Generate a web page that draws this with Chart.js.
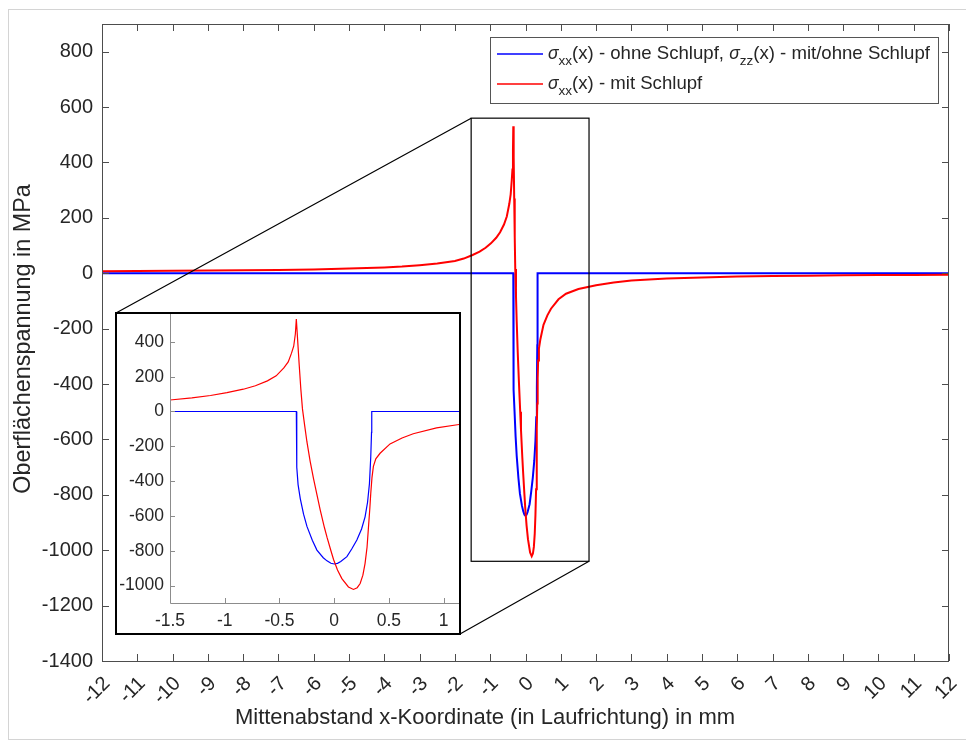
<!DOCTYPE html>
<html>
<head>
<meta charset="utf-8">
<script src="https://cdn.jsdelivr.net/npm/chart.js@4.4.1/dist/chart.umd.min.js"></script>
<style>
  body { margin: 0; background: #fff; }
  #wrap { position: relative; width: 966px; height: 742px; overflow: hidden; background: #fff; }
  #frame { position: absolute; left: 8px; top: 9px; width: 970px; height: 731px; border: 1px solid #d4d4d4; box-sizing: border-box; }
  #main { position: absolute; left: 0; top: 0; }
  #insetBox { position: absolute; left: 115px; top: 312px; width: 346px; height: 323px; border: 2px solid #000; box-sizing: border-box; background: #fff; }
  #inset { position: absolute; left: 0; top: 0; }
</style>
</head>
<body>
<div id="wrap">
  <div id="frame"></div>
  <canvas id="main" width="966" height="742"></canvas>
  <div id="insetBox"><canvas id="inset" width="342" height="319"></canvas></div>
</div>
<script>
// Oberflächenspannung entlang x, mit und ohne Schlupf

const xTicks = [-12, -11, -10, -9, -8, -7, -6, -5, -4, -3, -2, -1, 0, 1, 2, 3, 4, 5, 6, 7, 8, 9, 10, 11, 12];
const yTicks = [-1400, -1200, -1000, -800, -600, -400, -200, 0, 200, 400, 600, 800];
const insetXTicks = [-1.5, -1, -0.5, 0, 0.5, 1];
const insetYTicks = [-1000, -800, -600, -400, -200, 0, 200, 400];

const xLabel = 'Mittenabstand x-Koordinate (in Laufrichtung) in mm';
const yLabel = 'Oberflächenspannung in MPa';

// sigma_xx ohne Schlupf / sigma_zz (blau)
const xBlue = [-12, -0.346, -0.344, -0.34, -0.33, -0.31, -0.28, -0.249, -0.2, -0.158, -0.1, -0.066, -0.03, 0,
  0.03, 0.06, 0.116, 0.16, 0.207, 0.25, 0.282, 0.305, 0.322, 0.334, 0.341, 0.343, 12];
const yBlue = [0, 0, -200, -320, -420, -500, -590, -660, -740, -796, -840, -858, -872, -876,
  -872, -862, -834, -790, -738, -675, -605, -520, -414, -260, -120, 0, 0];

// sigma_xx mit Schlupf (rot)
const xRed = [-12, -11, -10, -9, -8, -7, -6, -5, -4, -3.5, -3, -2.5, -2, -1.75, -1.5, -1.3, -1.13, -0.98, -0.83,
  -0.72, -0.61, -0.53, -0.46, -0.42, -0.39, -0.37, -0.355, -0.346, -0.335, -0.32, -0.305, -0.29, -0.27,
  -0.249, -0.22, -0.189, -0.15, -0.128, -0.09, -0.066, -0.03, -0.006, 0.03, 0.07, 0.13, 0.176, 0.21, 0.237,
  0.262, 0.282, 0.3, 0.313, 0.325, 0.334, 0.345, 0.358, 0.38, 0.419, 0.51, 0.62, 0.722, 0.935, 1.148, 1.5,
  2, 2.5, 3, 4, 5, 6, 7, 8, 9, 10, 11, 12];
const yRed = [7, 8, 9, 10, 11, 12, 14, 17, 21, 24, 29, 35, 44, 53, 66, 78, 92, 108, 128,
  148, 176, 205, 250, 285, 335, 375, 445, 531, 420, 270, 130, 15, -80,
  -175, -285, -385, -500, -565, -665, -722, -800, -850, -910, -960, -1008, -1022, -1012, -988,
  -940, -872, -780, -665, -560, -470, -380, -315, -272, -240, -186, -152, -128, -94, -74, -57,
  -43, -33, -26, -19, -15, -12, -10, -9, -7, -6, -6, -5];

// Ausschnitt, der im Detailfenster vergrößert wird
const zoomX = [-1.54, 1.8];
const zoomY = [-1040, 560];

const legendRows = [
  { color: '#0000ff', parts: [['σ', 'sym'], ['xx', 'sub'], ['(x) - ohne Schlupf, ', ''], ['σ', 'sym'], ['zz', 'sub'], ['(x) - mit/ohne Schlupf', '']] },
  { color: '#ff0000', parts: [['σ', 'sym'], ['xx', 'sub'], ['(x) - mit Schlupf', '']] }
];

const FONT = "'Liberation Sans', Arial, Helvetica, sans-serif";
const TEXT = '#262626';
const AXIS = '#4d4d4d';

function points(xs, ys) {
  return xs.map((x, i) => ({ x: x, y: ys[i] }));
}

function fixedTicks(values) {
  return scale => { scale.ticks = values.map(v => ({ value: v })); };
}

function sized(w, h) {
  return scale => {
    if (w !== null) scale.width = w;
    if (h !== null) scale.height = h;
    scale.paddingTop = scale.paddingBottom = scale.paddingLeft = scale.paddingRight = 0;
  };
}

// box, inner tick marks, zoom rectangle, connector lines, legend, axis titles
const mainDecor = {
  id: 'mainDecor',
  afterDraw(chart) {
    const ctx = chart.ctx;
    const a = chart.chartArea;
    const xs = chart.scales.x, ys = chart.scales.y;
    ctx.save();

    ctx.strokeStyle = AXIS;
    ctx.lineWidth = 1;
    ctx.strokeRect(a.left + 0.5, a.top + 0.5, a.right - a.left - 1, a.bottom - a.top);
    ctx.beginPath();
    xTicks.forEach(v => {
      const px = Math.round(xs.getPixelForValue(v)) + 0.5;
      ctx.moveTo(px, a.bottom); ctx.lineTo(px, a.bottom - 7);
      ctx.moveTo(px, a.top); ctx.lineTo(px, a.top + 7);
    });
    yTicks.forEach(v => {
      const py = Math.round(ys.getPixelForValue(v)) + 0.5;
      ctx.moveTo(a.left, py); ctx.lineTo(a.left + 7, py);
      ctx.moveTo(a.right, py); ctx.lineTo(a.right - 7, py);
    });
    ctx.stroke();

    // zoom rectangle and connectors to the detail window
    const zl = xs.getPixelForValue(zoomX[0]), zr = xs.getPixelForValue(zoomX[1]);
    const zt = ys.getPixelForValue(zoomY[1]), zb = ys.getPixelForValue(zoomY[0]);
    ctx.strokeStyle = '#000';
    ctx.lineWidth = 1.2;
    ctx.strokeRect(zl, zt, zr - zl, zb - zt);
    const box = document.getElementById('insetBox');
    const bl = box.offsetLeft + 1, bt = box.offsetTop + 1;
    const br = bl + box.offsetWidth - 2, bb = bt + box.offsetHeight - 2;
    ctx.beginPath();
    ctx.moveTo(zl, zt); ctx.lineTo(bl, bt);
    ctx.moveTo(zr, zb); ctx.lineTo(br, bb);
    ctx.stroke();

    // legend
    const lx = 490, ly = 37, lw = 448, lh = 66;
    ctx.fillStyle = '#fff';
    ctx.fillRect(lx, ly, lw, lh);
    ctx.strokeStyle = '#555';
    ctx.lineWidth = 1;
    ctx.strokeRect(lx + 0.5, ly + 0.5, lw, lh);
    legendRows.forEach((row, i) => {
      const y = ly + 17 + i * 30;
      ctx.strokeStyle = row.color;
      ctx.lineWidth = 1.5;
      ctx.beginPath();
      ctx.moveTo(497, y); ctx.lineTo(543, y);
      ctx.stroke();
      let x = 548;
      ctx.fillStyle = TEXT;
      ctx.textAlign = 'left';
      ctx.textBaseline = 'middle';
      row.parts.forEach(([t, kind]) => {
        let dy = 0;
        if (kind === 'sym') ctx.font = 'italic 17.5px ' + FONT;
        else if (kind === 'sub') { ctx.font = '13.5px ' + FONT; dy = 7; }
        else ctx.font = '18.6px ' + FONT;
        ctx.fillText(t, x, y + dy);
        x += ctx.measureText(t).width;
      });
    });

    // axis titles
    ctx.fillStyle = TEXT;
    ctx.textAlign = 'center';
    ctx.textBaseline = 'middle';
    ctx.font = '22px ' + FONT;
    ctx.fillText(xLabel, 485, 718);
    ctx.translate(24, 339);
    ctx.rotate(-Math.PI / 2);
    ctx.font = '23.4px ' + FONT;
    ctx.fillText(yLabel, 0, 0);
    ctx.restore();
  }
};

const insetDecor = {
  id: 'insetDecor',
  afterDraw(chart) {
    const ctx = chart.ctx;
    const a = chart.chartArea;
    const xs = chart.scales.x, ys = chart.scales.y;
    ctx.save();
    ctx.strokeStyle = '#8c8c8c';
    ctx.lineWidth = 1;
    ctx.beginPath();
    ctx.moveTo(a.left + 0.5, a.top); ctx.lineTo(a.left + 0.5, a.bottom + 0.5);
    ctx.lineTo(a.right, a.bottom + 0.5);
    insetXTicks.forEach(v => {
      const px = Math.round(xs.getPixelForValue(v)) + 0.5;
      ctx.moveTo(px, a.bottom); ctx.lineTo(px, a.bottom - 5);
    });
    insetYTicks.forEach(v => {
      const py = Math.round(ys.getPixelForValue(v)) + 0.5;
      ctx.moveTo(a.left, py); ctx.lineTo(a.left + 5, py);
    });
    ctx.stroke();
    ctx.restore();
  }
};

function lineSet(label, xs, ys, color, width, order) {
  return {
    label: label,
    data: points(xs, ys),
    borderColor: color,
    borderWidth: width,
    pointRadius: 0,
    tension: 0,
    fill: false,
    order: order
  };
}

const noGrid = { display: false, drawTicks: false };

new Chart(document.getElementById('main'), {
  type: 'line',
  data: {
    datasets: [
      lineSet('σxx(x) - ohne Schlupf, σzz(x) - mit/ohne Schlupf', xBlue, yBlue, '#0000ff', 2, 2),
      lineSet('σxx(x) - mit Schlupf', xRed, yRed, '#ff0000', 2, 1)
    ]
  },
  options: {
    responsive: false,
    animation: false,
    layout: { autoPadding: false, padding: { left: 0, top: 24, right: 17, bottom: 0 } },
    plugins: { legend: { display: false }, tooltip: { enabled: false } },
    scales: {
      x: {
        type: 'linear', min: -12, max: 12,
        grid: noGrid, border: { display: false },
        afterBuildTicks: fixedTicks(xTicks),
        afterFit: sized(null, 81),
        ticks: {
          autoSkip: false, minRotation: 45, maxRotation: 45, padding: 11, labelOffset: 5,
          color: TEXT, font: { family: FONT, size: 20 },
          callback: v => String(v)
        }
      },
      y: {
        type: 'linear', min: -1400, max: 900,
        grid: noGrid, border: { display: false },
        afterBuildTicks: fixedTicks(yTicks),
        afterFit: sized(102, null),
        ticks: {
          padding: 9, color: TEXT, font: { family: FONT, size: 20 },
          callback: v => String(v)
        }
      }
    }
  },
  plugins: [mainDecor]
});

new Chart(document.getElementById('inset'), {
  type: 'line',
  data: {
    datasets: [
      lineSet('blau', xBlue, yBlue, '#0000ff', 1.2, 2),
      lineSet('rot', xRed, yRed, '#ff0000', 1.2, 1)
    ]
  },
  options: {
    responsive: false,
    animation: false,
    layout: { autoPadding: false, padding: 0 },
    plugins: { legend: { display: false }, tooltip: { enabled: false } },
    scales: {
      x: {
        type: 'linear', min: -1.5, max: 1.14,
        grid: noGrid, border: { display: false },
        afterBuildTicks: fixedTicks(insetXTicks),
        afterFit: sized(null, 30),
        ticks: { padding: 8, maxRotation: 0, color: TEXT, font: { family: FONT, size: 17.5 }, callback: v => String(v) }
      },
      y: {
        type: 'linear', min: -1100, max: 560,
        grid: noGrid, border: { display: false },
        afterBuildTicks: fixedTicks(insetYTicks),
        afterFit: sized(53, null),
        ticks: { padding: 6, color: TEXT, font: { family: FONT, size: 17.5 }, callback: v => String(v) }
      }
    }
  },
  plugins: [insetDecor]
});
</script>
</body>
</html>
